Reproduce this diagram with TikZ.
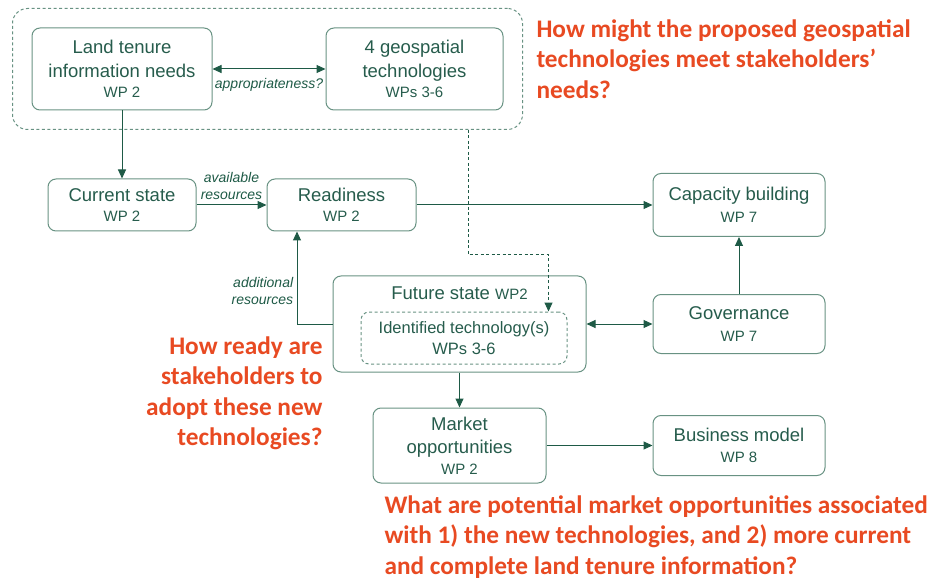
\documentclass[tikz,border=0pt]{standalone}
\usepackage{fontspec}
\setmainfont{Liberation Sans}
\newfontfamily\askfont{Carlito}
\definecolor{boxgreen}{RGB}{104,146,131}
\definecolor{textgreen}{RGB}{38,92,76}
\definecolor{arrowgreen}{RGB}{30,90,70}
\definecolor{askred}{RGB}{232,74,34}
\usetikzlibrary{arrows.meta,positioning,fit}
\newcommand{\wpline}[1]{{\fontsize{15}{19}\selectfont #1}}

\begin{document}
\begin{tikzpicture}[->,>={Stealth[length=9pt,width=8pt,inset=0pt]},x=1pt,y=1pt,
	line width=1pt]
	\tikzstyle{box}=[draw=boxgreen,rounded corners=8pt,text=textgreen,align=center,
		font=\fontsize{18.5}{23.5}\selectfont,inner sep=2pt,line width=1pt]
	\tikzstyle{group}=[draw=boxgreen,rounded corners=15pt,dash pattern=on 3pt off 2.5pt,line width=1pt]
	\tikzstyle{link}=[draw=arrowgreen]
	\tikzstyle{lbl}=[text=arrowgreen,font=\itshape\fontsize{14}{17}\selectfont,align=center]
	\tikzstyle{ask}=[text=askred,font=\askfont\bfseries\fontsize{25.3}{30.5}\selectfont,inner sep=0pt]
	\useasboundingbox (0,0) rectangle (932,-580);
	
	\node[box,minimum width=180pt,minimum height=82pt] (land) at (122,-69) {Land tenure\\information needs\\[-3pt]\wpline{WP 2}};
	\node[box,minimum width=177pt,minimum height=82pt] (geo) [right=113pt of land] {4 geospatial\\technologies\\[-3pt]\wpline{WPs 3-6}};
	\node[group,fit=(land)(geo),inner sep=19pt] (grp) {};
	\node[box,minimum width=148pt,minimum height=52pt] (cur) [below=68pt of land] {Current state\\[-3pt]\wpline{WP 2}};
	\node[box,minimum width=149pt,minimum height=52pt] (ready) [right=70pt of cur] {Readiness\\[-3pt]\wpline{WP 2}};
	\node[box,minimum width=172pt,minimum height=63pt] (cap) [right=236pt of ready] {Capacity building\\[-2pt]\wpline{WP 7}};
	\node[box,minimum width=172pt,minimum height=59pt] (gov) [below=57pt of cap] {Governance\\[-2pt]\wpline{WP 7}};
	\node[box,minimum width=253pt,minimum height=96pt] (fut) [left=66pt of gov] {};
	\node[text=textgreen,font=\fontsize{18.5}{23}\selectfont] (futtitle) [below=7pt of fut.north] {Future state \wpline{WP2}};
	\node[box,group,minimum width=206pt,minimum height=52pt,rounded corners=8pt,
		font=\fontsize{16.5}{21}\selectfont] (inner) at ([xshift=4.5pt,yshift=-14pt]fut.center) {Identified technology(s)\\WPs 3-6};
	\node[box,minimum width=173pt,minimum height=75pt] (mkt) [below=35pt of fut] {Market\\opportunities\\[-3pt]\wpline{WP 2}};
	\node[box,minimum width=172pt,minimum height=60pt] (biz) [right=106pt of mkt] {Business model\\[-2pt]\wpline{WP 8}};
	\coordinate (bend) at (468,-255);
	
	% questions
	\node[ask,anchor=north west,align=left] (askgeo) at (536,-19) {How might the proposed geospatial\\technologies meet stakeholders’\\needs?};
	\node[ask,anchor=north east,align=right] (askready) at (323,-336) {How ready are\\stakeholders to\\adopt these new\\technologies?};
	\node[ask,anchor=north west,align=left] (askmkt) at (384,-495) {What are potential market opportunities associated\\with 1) the new technologies, and 2) more current\\and complete land tenure information?};
	
	\draw[link,<->] (land) -- node[lbl,below=6pt] {appropriateness?} (geo);
	\draw[link] (land.south) -- (land.south |- cur.north);
	\draw[link] (cur) -- node[lbl,above=2pt] {available\\resources} (ready);
	\draw[link] (ready.east) -- (ready.east -| cap.west);
	\draw[link,dash pattern=on 3pt off 2.5pt] (grp.south -| bend) -- (bend) -| ([xshift=-19pt]inner.north east);
	\draw[link] (fut.west) -| node[lbl,left,pos=0.68,align=right] {additional\\resources} ([xshift=-44.5pt]ready.south);
	\draw[link,<->] (fut) -- (gov);
	\draw[link] (gov) -- (cap);
	\draw[link] (fut) -- (mkt);
	\draw[link] (mkt.east) -- (mkt.east -| biz.west);
\end{tikzpicture}
\end{document}
